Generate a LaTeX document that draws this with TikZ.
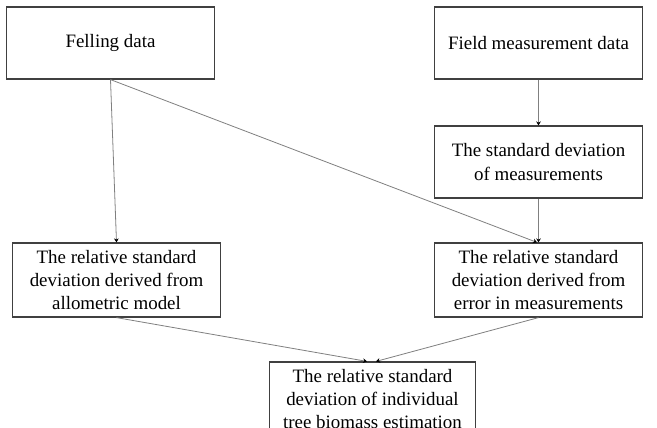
\documentclass[tikz,border=0pt]{standalone}
\usepackage{fontspec}
\setmainfont{Liberation Serif}
\usetikzlibrary{arrows.meta,calc}
\begin{document}
\begin{tikzpicture}[x=0.75pt,y=-0.75pt,
  box/.style={draw=black!75,line width=0.9pt,fill=white,align=center,
    font=\fontsize{14.2pt}{17.3pt}\selectfont,inner sep=0pt,
    minimum width=155.5pt,minimum height=54pt},
  tall/.style={box,minimum width=156.5pt,minimum height=55.5pt},
  conn/.style={draw=black!50,line width=0.6pt,-{Stealth[length=3pt,width=3.5pt,black]}}]
\clip (0,0) rectangle (657,428);
\fill[white] (0,0) rectangle (657,428);
\node[box] (fell) at (110.5,43) {Felling data};
\node[box] (field) at (538.5,43) {Field measurement data};
\node[box] (sdm) at (538.5,162) {The standard deviation\\of measurements};
\node[tall] (allo) at (116.5,280) {The relative standard\\deviation derived from\\allometric model};
\node[tall] (err) at (538.5,280) {The relative standard\\deviation derived from\\error in measurements};
\node[tall,minimum width=155pt] (tree) at (372.5,399) {The relative standard\\deviation of individual\\tree biomass estimation};
\coordinate (treel) at ($(tree.north)+(-5.5,0)$);
\coordinate (treer) at ($(tree.north)+(3.5,0)$);
\coordinate (errl) at ($(err.north)+(-1.5,0)$);
\draw[conn] (fell.south) -- (allo.north);
\draw[conn] (fell.south) -- (errl);
\draw[conn] (field.south) -- (sdm.north);
\draw[conn] (sdm.south) -- (err.north);
\draw[conn] (allo.south) -- (treel);
\draw[conn] (err.south) -- (treer);
\end{tikzpicture}
\end{document}
